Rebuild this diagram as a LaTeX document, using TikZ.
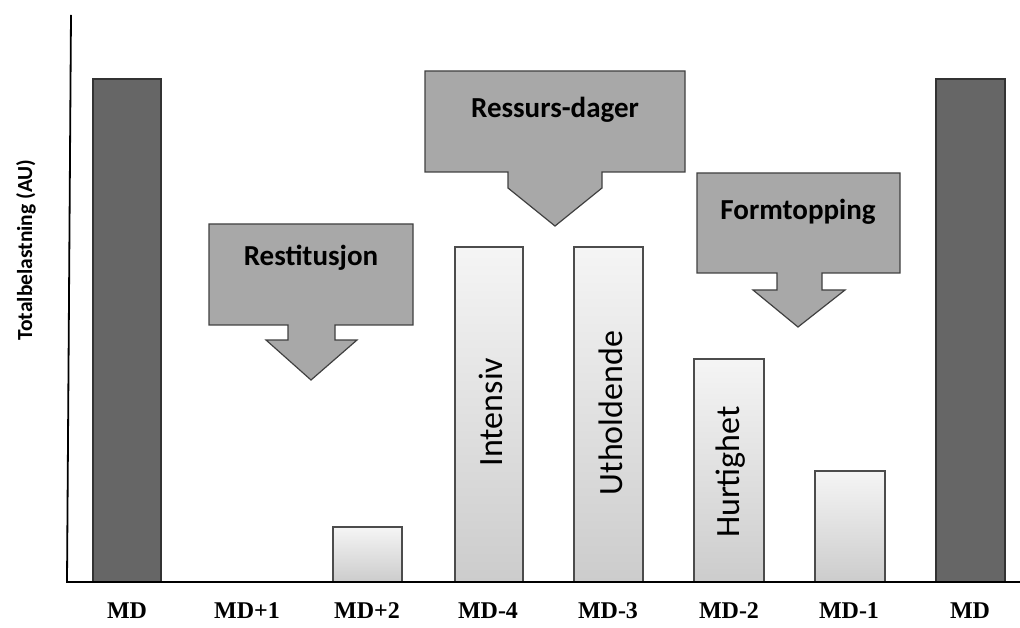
\documentclass[tikz,border=0pt]{standalone}
\usepackage{fontspec}
\setmainfont{Liberation Serif}
\newfontfamily\calfont{Carlito}
\begin{document}
\begin{tikzpicture}[x=1pt,y=-1pt,
  darkbar/.style={draw=black!80,line width=1.2pt,fill=black!60},
  lightbar/.style={draw=black!70,line width=1.2pt,top color=black!4,bottom color=black!20},
  callout/.style={draw=black!75,line width=1.2pt,fill=black!34},
  daylabel/.style={font=\fontsize{24}{28}\selectfont\bfseries},
  barlabel/.style={font=\calfont\fontsize{34}{40}\selectfont,rotate=90},
  calltext/.style={font=\calfont\fontsize{29}{34}\selectfont\bfseries}]
\useasboundingbox (0,0) rectangle (1020,628);
% bars
\draw[darkbar] (93,582) rectangle (161,79);
\draw[lightbar] (333,582) rectangle (402,527);
\draw[lightbar] (455,582) rectangle (523,247);
\draw[lightbar] (574,582) rectangle (643,247);
\draw[lightbar] (694,582) rectangle (764,359);
\draw[lightbar] (815,582) rectangle (885,471);
\draw[darkbar] (936,582) rectangle (1005,79);
% axes
\draw[line width=1.8pt] (71,15) -- (67,582) -- (1020,582);
% bar texts
\node[barlabel] (intensiv) at (491,412) {Intensiv};
\node[barlabel] (uthold) at (611,413) {Utholdende};
\node[barlabel] (hurtig) at (731,472) {Hurtighet};
% callouts
\draw[callout] (209,224) -- (413,224) -- (413,325) -- (335,325) -- (335,340) -- (357,340)
  -- (311,380) -- (266,340) -- (288,340) -- (288,325) -- (209,325) -- cycle;
\node[calltext] (resti) at (311,258) {Restitusjon};
\draw[callout] (425,71) -- (685,71) -- (685,172) -- (602,172) -- (602,188)
  -- (555,226) -- (508,188) -- (508,172) -- (425,172) -- cycle;
\node[calltext] (ressurs) at (555,110) {Ressurs-dager};
\draw[callout] (697,173) -- (900,173) -- (900,273) -- (822,273) -- (822,290) -- (845,290)
  -- (798,327) -- (753,290) -- (777,290) -- (777,273) -- (697,273) -- cycle;
\node[calltext] (form) at (798,212) {Formtopping};
% axis label
\node[font=\calfont\fontsize{21.5}{25}\selectfont\bfseries,rotate=90] (ylab) at (26,250) {Totalbelastning (AU)};
% day labels
\node[daylabel] (d1) at (127,611) {MD};
\node[daylabel] (d2) at (247,611) {MD+1};
\node[daylabel] (d3) at (367,611) {MD+2};
\node[daylabel] (d4) at (488,611) {MD-4};
\node[daylabel] (d5) at (608,611) {MD-3};
\node[daylabel] (d6) at (729,611) {MD-2};
\node[daylabel] (d7) at (849,611) {MD-1};
\node[daylabel] (d8) at (970,611) {MD};
\end{tikzpicture}
\end{document}
